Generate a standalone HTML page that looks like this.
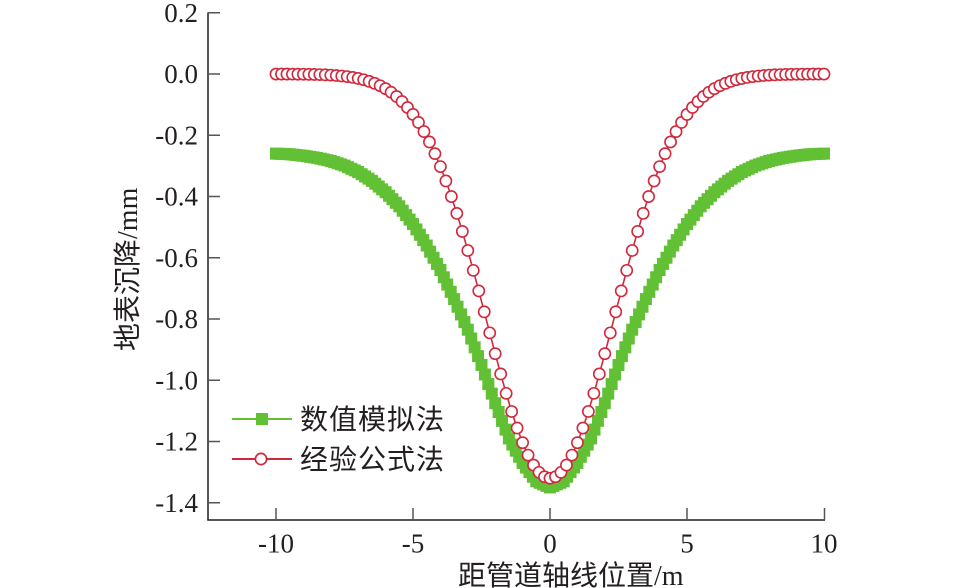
<!DOCTYPE html>
<html><head><meta charset="utf-8">
<style>
html,body{margin:0;padding:0;background:#fff;}
svg{display:block;}
.t{font-family:"Liberation Serif","Noto Serif CJK SC",serif;font-size:27px;fill:#231f20;}
.c{font-family:"Liberation Sans","Noto Sans CJK SC",sans-serif;font-size:28px;fill:#231f20;}
.m{font-family:"Liberation Serif",serif;font-size:28px;fill:#231f20;}
</style></head>
<body>
<svg id="s" width="957" height="588" viewBox="0 0 957 588" xmlns="http://www.w3.org/2000/svg">
<rect width="957" height="588" fill="#fff"/>
<g id="series"></g>
<!-- axes -->
<g stroke="#231f20" stroke-width="1.5" fill="none">
<line x1="208" y1="12.5" x2="208" y2="520.5"/>
<line x1="207.3" y1="520" x2="825" y2="520"/>
</g>
<g stroke="#555" stroke-width="1.5">
<line x1="208" y1="12.75" x2="220" y2="12.75"/>
<line x1="208" y1="74" x2="220" y2="74"/>
<line x1="208" y1="135.25" x2="220" y2="135.25"/>
<line x1="208" y1="196.5" x2="220" y2="196.5"/>
<line x1="208" y1="257.75" x2="220" y2="257.75"/>
<line x1="208" y1="319" x2="220" y2="319"/>
<line x1="208" y1="380.25" x2="220" y2="380.25"/>
<line x1="208" y1="441.5" x2="220" y2="441.5"/>
<line x1="208" y1="502.75" x2="220" y2="502.75"/>
<line x1="276" y1="520" x2="276" y2="508"/>
<line x1="413" y1="520" x2="413" y2="508"/>
<line x1="550" y1="520" x2="550" y2="508"/>
<line x1="687" y1="520" x2="687" y2="508"/>
<line x1="824.5" y1="520" x2="824.5" y2="508"/>
</g>
<g class="t" text-anchor="end">
<text x="198" y="22">0.2</text>
<text x="198" y="83">0.0</text>
<text x="198" y="144.5">-0.2</text>
<text x="198" y="205.5">-0.4</text>
<text x="198" y="267">-0.6</text>
<text x="198" y="328">-0.8</text>
<text x="198" y="389.5">-1.0</text>
<text x="198" y="450.5">-1.2</text>
<text x="198" y="512">-1.4</text>
</g>
<g class="t" text-anchor="middle">
<text x="276" y="552.5">-10</text>
<text x="413" y="552.5">-5</text>
<text x="550" y="552.5">0</text>
<text x="687" y="552.5">5</text>
<text x="824" y="552.5">10</text>
</g>
<text x="458" y="585" class="c">距管道轴线位置<tspan class="m">/m</tspan></text>
<text transform="translate(137,351) rotate(-90)" class="c">地表沉降<tspan class="m">/mm</tspan></text>
<!-- legend -->
<line x1="232" y1="419" x2="292" y2="419" stroke="#62c034" stroke-width="2"/>
<rect x="256" y="413" width="12" height="12" fill="#62c034"/>
<text x="300" y="429" class="c" letter-spacing="1">数值模拟法</text>
<line x1="232" y1="459" x2="292" y2="459" stroke="#d2283c" stroke-width="2"/>
<circle cx="261" cy="459" r="5.6" fill="#fff" stroke="#d2283c" stroke-width="1.7"/>
<text x="300" y="469" class="c" letter-spacing="1">经验公式法</text>
</svg>
<script>
(function(){
var NS="http://www.w3.org/2000/svg";
var g=document.getElementById("series");
function X(x){return 550+27.4*x;}
function Y(v){return 74-306.25*v;}
var tb=[[0,-1.350],[0.5,-1.330],[1.0,-1.270],[1.5,-1.190],[2.0,-1.075],[2.5,-0.950],[3.0,-0.835],[3.5,-0.735],[4.0,-0.640],[4.5,-0.560],[5.0,-0.490],[5.5,-0.432],[6.0,-0.386],[6.5,-0.349],[7.0,-0.320],[7.5,-0.299],[8.0,-0.284],[8.5,-0.274],[9.0,-0.267],[9.5,-0.262],[10,-0.260]];
function green(x){var a=Math.abs(x);for(var i=0;i<tb.length-1;i++){if(a<=tb[i+1][0]){var t=(a-tb[i][0])/(tb[i+1][0]-tb[i][0]);return tb[i][1]+t*(tb[i+1][1]-tb[i][1]);}}return tb[tb.length-1][1];}
function red(x){return -1.32*Math.exp(-x*x/(2*2.33*2.33));}
var xs=[];for(var k=-50;k<=50;k++)xs.push(k*0.2);
var xg=[];for(var k=-80;k<=80;k++)xg.push(k*0.125);
var pg="",pr="";
xg.forEach(function(x,i){pg+=(i?"L":"M")+X(x).toFixed(2)+","+Y(green(x)).toFixed(2);});
xs.forEach(function(x,i){pr+=(i?"L":"M")+X(x).toFixed(2)+","+Y(red(x)).toFixed(2);});
var p=document.createElementNS(NS,"path");p.setAttribute("d",pg);p.setAttribute("stroke","#62c034");p.setAttribute("stroke-width","1.5");p.setAttribute("fill","none");g.appendChild(p);
xg.forEach(function(x){var r=document.createElementNS(NS,"rect");r.setAttribute("x",(X(x)-6).toFixed(2));r.setAttribute("y",(Y(green(x))-6).toFixed(2));r.setAttribute("width","12");r.setAttribute("height","12");r.setAttribute("fill","#62c034");g.appendChild(r);});
var q=document.createElementNS(NS,"path");q.setAttribute("d",pr);q.setAttribute("stroke","#d2283c");q.setAttribute("stroke-width","1.6");q.setAttribute("fill","none");g.appendChild(q);
xs.forEach(function(x){var c=document.createElementNS(NS,"circle");c.setAttribute("cx",X(x).toFixed(2));c.setAttribute("cy",Y(red(x)).toFixed(2));c.setAttribute("r","5.6");c.setAttribute("fill","#fff");c.setAttribute("stroke","#d2283c");c.setAttribute("stroke-width","1.6");g.appendChild(c);});
})();
</script>
</body></html>
